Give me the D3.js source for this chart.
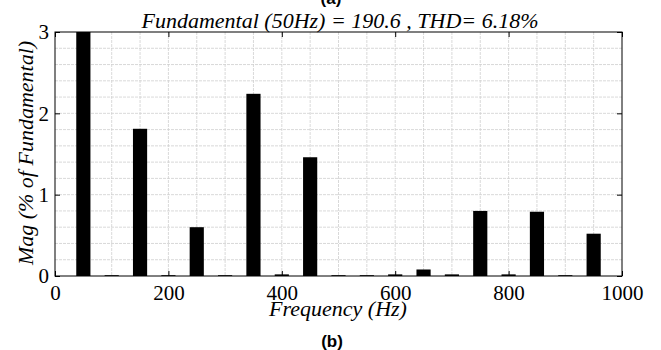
<!DOCTYPE html>
<html>
<head>
<meta charset="utf-8">
<script src="https://cdn.jsdelivr.net/npm/d3@7"></script>
<style>
  body { margin: 0; background: #fff; }
  svg { display: block; }
</style>
</head>
<body>
<div id="chart"></div>
<script>
// harmonic spectrum, % of fundamental
var freqs = [50, 100, 150, 200, 250, 300, 350, 400, 450, 500, 550, 600, 650, 700, 750, 800, 850, 900, 950];
var mags = [100, 0.01, 1.81, 0.01, 0.6, 0.01, 2.24, 0.02, 1.46, 0.01, 0.01, 0.02, 0.08, 0.02, 0.8, 0.02, 0.79, 0.01, 0.52];
var xTicks = [0, 200, 400, 600, 800, 1000];
var yTicks = [0, 1, 2, 3];
var titleText = "Fundamental (50Hz) = 190.6 , THD= 6.18%";

var margin = { top: 32, right: 39, bottom: 74, left: 55 },
    width = 661 - margin.left - margin.right,
    height = 350 - margin.top - margin.bottom;

var x = d3.scaleLinear().domain([0, 1000]).range([0, width]);
var y = d3.scaleLinear().domain([0, 3]).range([height, 0]);

var root = d3.select("#chart").append("svg")
    .attr("width", 661)
    .attr("height", 350);

var svg = root.append("g")
    .attr("transform", "translate(" + margin.left + "," + margin.top + ")");

var serif = "Liberation Serif, DejaVu Serif, serif";
var sans = "Liberation Sans, Arial, sans-serif";

// grid
svg.append("g").selectAll("line")
    .data(d3.range(50, 1000, 50))
    .enter().append("line")
    .attr("x1", function (d) { return x(d); })
    .attr("x2", function (d) { return x(d); })
    .attr("y1", 0).attr("y2", height)
    .style("stroke", "#cfcfcf")
    .style("stroke-width", 0.8)
    .style("stroke-dasharray", "3,1");

svg.append("g").selectAll("line")
    .data(d3.range(1, 15).map(function (i) { return i * 0.2; }))
    .enter().append("line")
    .attr("x1", 0).attr("x2", width)
    .attr("y1", function (d) { return y(d); })
    .attr("y2", function (d) { return y(d); })
    .style("stroke", "#cfcfcf")
    .style("stroke-width", 0.8)
    .style("stroke-dasharray", "3,1");

// bars
var barW = x(25) - x(0);
svg.append("defs").append("clipPath").attr("id", "clip")
    .append("rect").attr("width", width).attr("height", height);

svg.append("g").attr("clip-path", "url(#clip)")
    .selectAll("rect")
    .data(freqs)
    .enter().append("rect")
    .attr("x", function (d) { return x(d) - barW / 2; })
    .attr("width", barW)
    .attr("y", function (d, i) { return y(mags[i]); })
    .attr("height", function (d, i) { return Math.max(1, height - y(mags[i])); })
    .style("fill", "#000");

// axes
var ax = svg.append("g").attr("transform", "translate(0," + height + ")")
    .call(d3.axisBottom(x).tickValues(xTicks).tickFormat(d3.format("d")).tickSizeInner(-5).tickSizeOuter(0).tickPadding(11));
var axTop = svg.append("g")
    .call(d3.axisTop(x).tickValues(xTicks).tickSizeInner(-5).tickSizeOuter(0).tickFormat(""));
var ay = svg.append("g")
    .call(d3.axisLeft(y).tickValues(yTicks).tickFormat(d3.format("d")).tickSizeInner(-5).tickSizeOuter(0).tickPadding(6));
var ayR = svg.append("g").attr("transform", "translate(" + width + ",0)")
    .call(d3.axisRight(y).tickValues(yTicks).tickSizeInner(-5).tickSizeOuter(0).tickFormat(""));

[ax, axTop, ay, ayR].forEach(function (g) {
    g.select(".domain").remove();
    g.selectAll("line").style("stroke", "#000");
    g.selectAll("text").style("fill", "#000")
        .style("font-family", serif).style("font-size", "21px");
});
ax.selectAll("text").attr("dy", "0.62em");

svg.append("rect")
    .attr("width", width).attr("height", height)
    .style("fill", "none").style("stroke", "#000").style("stroke-width", 1);

// labels
root.append("text")
    .attr("x", 340).attr("y", 28)
    .style("text-anchor", "middle")
    .style("font-family", serif).style("font-style", "italic").style("font-size", "22px")
    .text(titleText);

root.append("text")
    .attr("x", 331).attr("y", 4)
    .style("text-anchor", "middle")
    .style("font-family", sans).style("font-weight", "bold").style("font-size", "17px")
    .text("(a)");

root.append("text")
    .attr("x", 338).attr("y", 316)
    .style("text-anchor", "middle")
    .style("font-family", serif).style("font-style", "italic").style("font-size", "22px")
    .text("Frequency (Hz)");

root.append("text")
    .attr("transform", "translate(33," + (margin.top + height / 2 - 1) + ") rotate(-90)")
    .style("text-anchor", "middle")
    .style("font-family", serif).style("font-style", "italic").style("font-size", "22px")
    .text("Mag (% of Fundamental)");

root.append("text")
    .attr("x", 332).attr("y", 347)
    .style("text-anchor", "middle")
    .style("font-family", sans).style("font-weight", "bold").style("font-size", "17px")
    .text("(b)");
</script>
</body>
</html>
